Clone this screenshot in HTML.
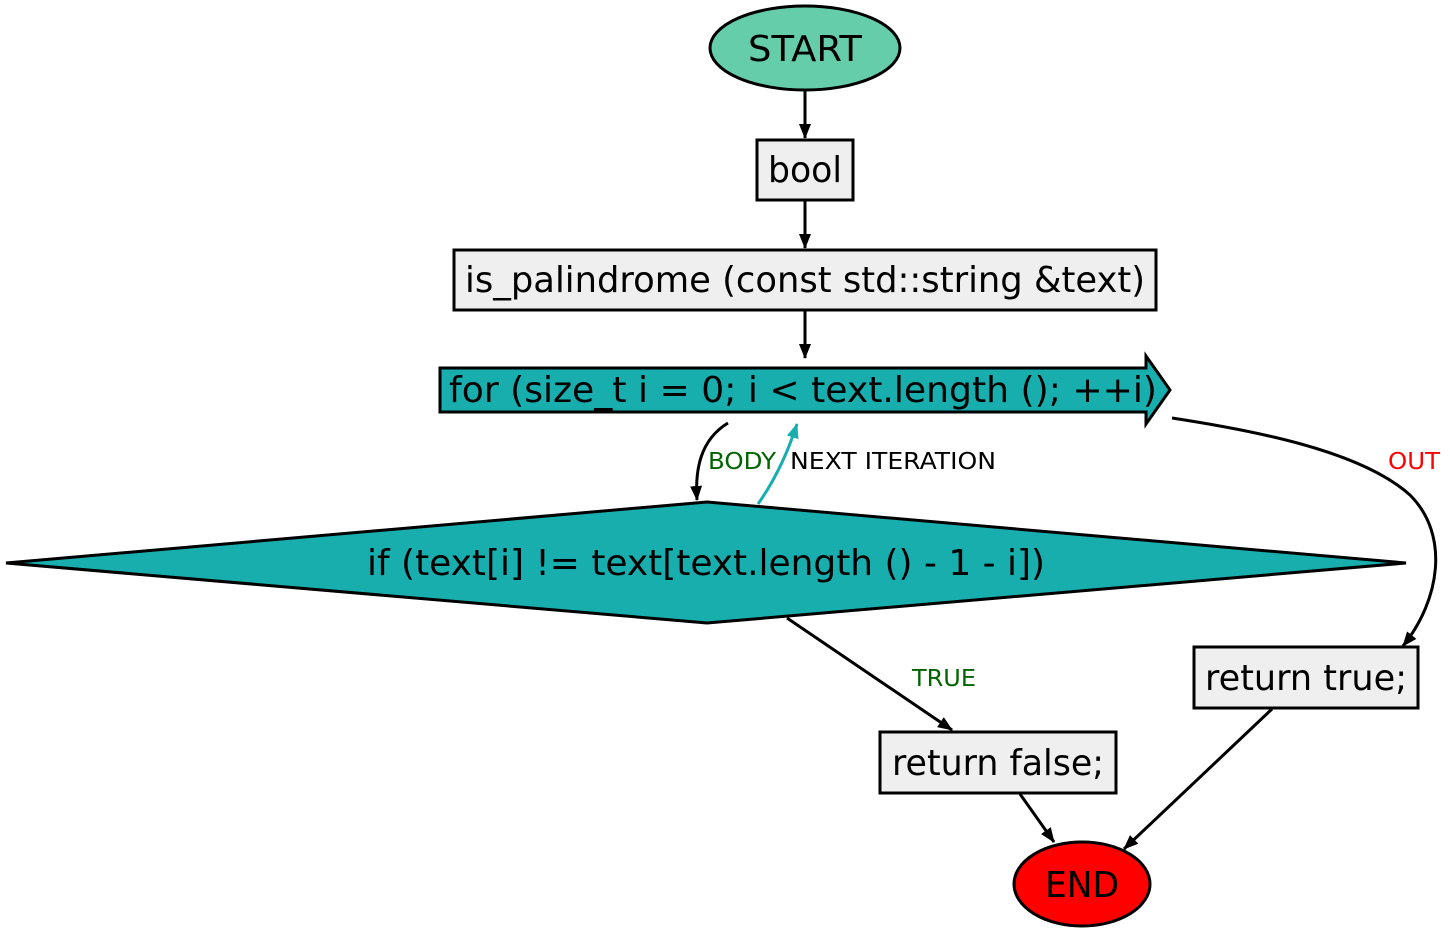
<!DOCTYPE html>
<html><head><meta charset="utf-8"><style>body{margin:0;background:#fff}svg{display:block}</style></head><body>
<svg width="1450" height="933" viewBox="0 0 1450 933" xmlns="http://www.w3.org/2000/svg" font-family="DejaVu Sans, Liberation Sans, sans-serif">
<defs>
<marker id="a" markerWidth="16" markerHeight="14" refX="14" refY="6" orient="auto" markerUnits="userSpaceOnUse"><path d="M0,0 L15,6 L0,12 z" fill="#000"/></marker>
<marker id="t" markerWidth="16" markerHeight="14" refX="14" refY="6" orient="auto" markerUnits="userSpaceOnUse"><path d="M0,0 L15,6 L0,12 z" fill="#18aeae"/></marker>
</defs>
<g stroke="#000" stroke-width="3">
<ellipse cx="805" cy="48" rx="95" ry="42" fill="#66cdaa"/>
<rect x="757" y="140" width="96" height="60" fill="#efefef"/>
<rect x="454" y="250" width="702" height="60" fill="#efefef"/>
<path d="M440,368 L1146,368 L1146,356 L1170,390 L1146,424 L1146,412 L440,412 Z" fill="#18aeae"/>
<path d="M6,563 L707,502 L1406,563 L707,623 Z" fill="#18aeae"/>
<rect x="1194" y="647" width="224" height="61" fill="#efefef"/>
<rect x="880" y="732" width="236" height="61" fill="#efefef"/>
<ellipse cx="1082" cy="884" rx="68" ry="42" fill="#ff0000"/>
</g>
<g stroke="#000" stroke-width="3" fill="none">
<path d="M805,91 L805,138" marker-end="url(#a)"/>
<path d="M805,201 L805,248" marker-end="url(#a)"/>
<path d="M805,311 L805,358" marker-end="url(#a)"/>
<path d="M728,423 C700,440 695,470 697,500" marker-end="url(#a)"/>
<path d="M1172,418 C1250,430 1360,450 1410,495 C1450,535 1440,600 1403,646" marker-end="url(#a)"/>
<path d="M787,618 L952,730" marker-end="url(#a)"/>
<path d="M1020,794 L1054,842" marker-end="url(#a)"/>
<path d="M1272,709 L1124,849" marker-end="url(#a)"/>
</g>
<path d="M758,504 C775,480 787,455 797,424" stroke="#18aeae" stroke-width="3" fill="none" marker-end="url(#t)"/>
<g font-size="36" text-anchor="middle" fill="#000">
<text x="805" y="61" textLength="114" lengthAdjust="spacingAndGlyphs">START</text>
<text x="805" y="182" textLength="74" lengthAdjust="spacingAndGlyphs">bool</text>
<text x="805" y="292" textLength="680" lengthAdjust="spacingAndGlyphs">is_palindrome (const std::string &amp;text)</text>
<text x="803" y="402" textLength="708" lengthAdjust="spacingAndGlyphs">for (size_t i = 0; i &lt; text.length (); ++i)</text>
<text x="706" y="575" textLength="678" lengthAdjust="spacingAndGlyphs">if (text[i] != text[text.length () - 1 - i])</text>
<text x="1306" y="690" textLength="202" lengthAdjust="spacingAndGlyphs">return true;</text>
<text x="998" y="775" textLength="212" lengthAdjust="spacingAndGlyphs">return false;</text>
<text x="1082" y="897" textLength="74" lengthAdjust="spacingAndGlyphs">END</text>
</g>
<g font-size="23">
<text x="708" y="469" fill="#006400" textLength="68" lengthAdjust="spacingAndGlyphs">BODY</text>
<text x="790" y="469" fill="#000" textLength="206" lengthAdjust="spacingAndGlyphs">NEXT ITERATION</text>
<text x="1388" y="469" fill="#ff0000" textLength="52" lengthAdjust="spacingAndGlyphs">OUT</text>
<text x="912" y="686" fill="#006400" textLength="64" lengthAdjust="spacingAndGlyphs">TRUE</text>
</g>
</svg>
</body></html>
